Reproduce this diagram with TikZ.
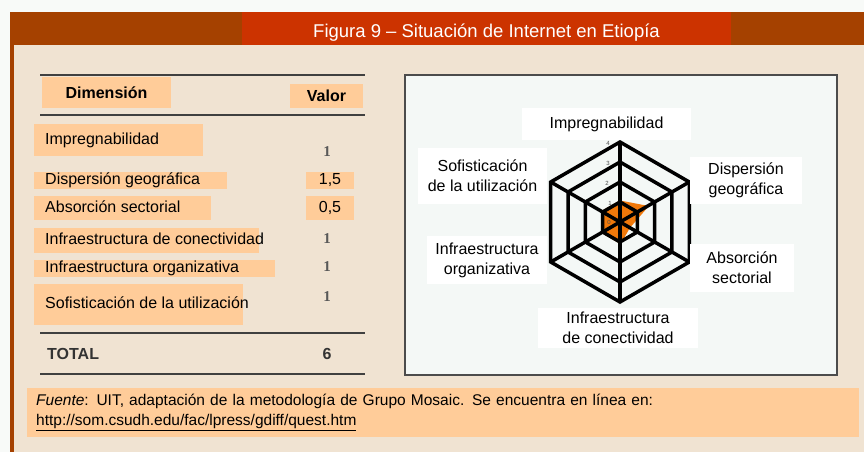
\documentclass[tikz,border=0pt]{standalone}
\usepackage{fontspec}
\setmainfont{Liberation Sans}
\newfontfamily\valuefont{Liberation Serif}
\usetikzlibrary{shapes.geometric}
\definecolor{barbrown}{RGB}{165,65,0}
\definecolor{barred}{RGB}{204,51,0}
\definecolor{panelbeige}{RGB}{240,227,210}
\definecolor{peach}{RGB}{255,204,153}
\definecolor{radarorange}{RGB}{240,120,10}
\definecolor{framefill}{RGB}{244,248,246}
\definecolor{pagebg}{RGB}{248,250,248}
\tikzstyle{titletext}=[text=white,inner sep=0pt,font=\fontsize{18.5}{20}\selectfont]
\tikzstyle{headbox}=[fill=peach,inner sep=0pt,font=\bfseries\fontsize{16}{18}\selectfont]
\tikzstyle{rowbox}=[fill=peach,inner xsep=11pt,inner ysep=0pt,anchor=west,text height=11.5pt,text depth=3.5pt,font=\fontsize{16}{18}\selectfont]
\tikzstyle{valbox}=[fill=peach,inner sep=0pt,minimum width=48pt,font=\fontsize{16}{18}\selectfont]
\tikzstyle{valone}=[inner sep=0pt,text=black!65,font=\valuefont\bfseries\fontsize{15}{16}\selectfont]
\tikzstyle{totaltext}=[inner sep=0pt,text=black!80,font=\bfseries\fontsize{16}{18}\selectfont]
\tikzstyle{rule}=[line width=2.5pt,black!75]
\tikzstyle{ring}=[regular polygon,regular polygon sides=6,shape border rotate=30,draw=black,line width=3.5pt,inner sep=0pt,outer sep=0pt]
\tikzstyle{spoke}=[line width=3.5pt,black]
\tikzstyle{axislabel}=[fill=white,inner sep=0pt,align=center,font=\fontsize{16}{20}\selectfont]
\tikzstyle{tick}=[inner sep=0pt,text=black!70,font=\fontsize{6}{6}\selectfont]
\newcommand{\celltext}[2]{\makebox[#1][l]{#2}}

\begin{document}
\begin{tikzpicture}[x=1pt,y=-1pt]
\useasboundingbox (0,0) rectangle (864,452);
\fill[pagebg] (0,0) rectangle (864,452);
\fill[panelbeige] (14,45) rectangle (864,452);
\fill[barbrown] (10,12) rectangle (864,45);
\fill[barbrown] (10,12) rectangle (14,452);
\fill[barred] (242,12) rectangle (731,45);
\node[titletext,anchor=base] at (486.5,37.5) (title) {Figura 9 -- Situación de Internet en Etiopía};

\draw[rule] (40,75) -- (365,75);
\draw[rule] (40,115) -- (365,115);
\draw[rule] (40,333) -- (365,333);
\draw[rule] (40,374) -- (365,374);
\node[headbox,minimum width=129pt,minimum height=31pt] at (106.5,92.5) (dimension) {Dimensión};
\node[headbox,minimum width=73pt,minimum height=24pt] at (326.5,96) (valor) {Valor};

\node[rowbox,minimum height=32pt] at (34,140) (impreg) {\celltext{147pt}{Impregnabilidad}};
\node[rowbox,minimum height=17pt] at (34,180.5) (disp) {\celltext{171pt}{Dispersión geográfica}};
\node[rowbox,minimum height=24pt] at (34,208) (absor) {\celltext{155pt}{Absorción sectorial}};
\node[rowbox,minimum height=25pt] at (34,240.5) (conect) {\celltext{203pt}{Infraestructura de conectividad}};
\node[rowbox,minimum height=17pt] at (34,268.5) (organ) {\celltext{219pt}{Infraestructura organizativa}};
\node[rowbox,minimum height=41pt] at (34,304.5) (sofis) {\celltext{187pt}{Sofisticación de la utilización}};

\node[valone] at (327,152) (vimpreg) {1};
\node[valbox,minimum height=17pt] at (330,180.5) (vdisp) {1,5};
\node[valbox,minimum height=24pt] at (330,208) (vabsor) {0,5};
\node[valone] at (327,239) (vconect) {1};
\node[valone] at (327,267) (vorgan) {1};
\node[valone] at (327,297) (vsofis) {1};
\node[totaltext,anchor=west] at (47,354) (total) {TOTAL};
\node[totaltext] at (327,354) (vtotal) {6};

\node[draw=black!70,line width=2pt,fill=framefill,minimum width=432pt,minimum height=300pt,inner sep=0pt] at (621,225) (radarframe) {};
\coordinate (c) at (620,222);
\filldraw[radarorange,line width=3pt,line join=round] ([shift={(-90:20)}]c) -- ([shift={(-30:30)}]c) -- ([shift={(30:10)}]c) -- ([shift={(90:20)}]c) -- ([shift={(150:20)}]c) -- ([shift={(210:20)}]c) -- cycle;
\node[ring,minimum size=40pt] at (c) (ring1) {};
\node[ring,minimum size=80pt] at (c) (ring2) {};
\node[ring,minimum size=120pt] at (c) (ring3) {};
\node[ring,minimum size=160pt] at (c) (ring4) {};
\draw[spoke] (ring4.corner 1) -- (ring4.corner 4);
\draw[spoke] (ring4.corner 2) -- (ring4.corner 5);
\draw[spoke] (ring4.corner 3) -- (ring4.corner 6);
\node[tick] at (608,143) (tick4) {4};
\node[tick] at (608,163) (tick3) {3};
\node[tick] at (607,183) (tick2) {2};
\node[tick] at (610,203) (tick1) {1};
\node[tick] at (609,222) (tick0) {0};

\node[axislabel,minimum width=169pt,minimum height=32pt] at (606.5,124) (limpreg) {Impregnabilidad};
\node[axislabel,minimum width=112pt,minimum height=47pt] at (746,180.5) (ldisp) {Dispersión\\geográfica};
\node[axislabel,minimum width=104pt,minimum height=48pt] at (742,268) (labsor) {Absorción\\sectorial};
\node[axislabel,minimum width=160pt,minimum height=40pt] at (618,328) (lconect) {Infraestructura\\de conectividad};
\node[axislabel,minimum width=120pt,minimum height=48pt] at (487,260) (lorgan) {Infraestructura\\organizativa};
\node[axislabel,minimum width=129pt,minimum height=56pt] at (482.5,176) (lsofis) {Sofisticación\\de la utilización};

\node[fill=peach,inner xsep=9pt,inner ysep=0pt,minimum height=49pt,text width=814pt,align=left,anchor=north west,font=\fontsize{15.5}{20}\selectfont] at (27,388) (fuente) {\textit{Fuente}: UIT, adaptación de la metodología de Grupo Mosaic. Se encuentra en línea en:\\\underline{http://som.csudh.edu/fac/lpress/gdiff/quest.htm}};
\end{tikzpicture}
\end{document}
